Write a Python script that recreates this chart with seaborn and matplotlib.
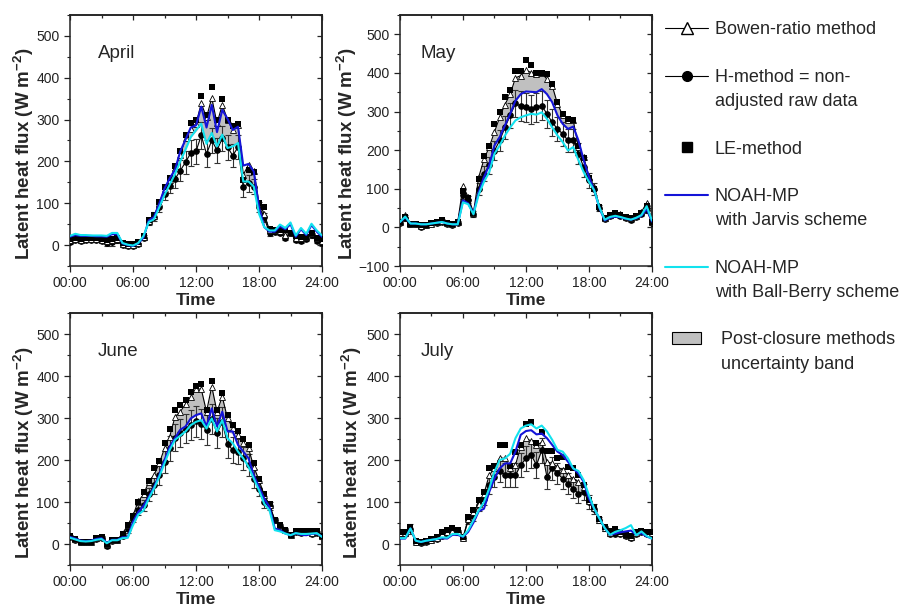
import numpy as np
import seaborn as sns
import matplotlib.pyplot as plt
from matplotlib.lines import Line2D
from matplotlib.patches import Patch
from matplotlib.ticker import MultipleLocator

# half-hourly time axis, 00:00 .. 24:00
hours = np.arange(0, 24.5, 0.5)
tick_hours = [0, 6, 12, 18, 24]
tick_labels = ["00:00", "06:00", "12:00", "18:00", "24:00"]

# ---------------- April ----------------
apr_h = [8, 11, 10, 13, 11, 11, 10, 6, 8, 11, 0, -3, -3, 2, 18, 55, 68, 92, 122, 142,
         158, 178, 198, 220, 224, 262, 218, 250, 227, 255, 234, 214, 234, 138, 148, 140, 92, 66,
         28, 32, 30, 18, 28, 12, 10, 14, 24, 10, 4]
apr_err = [5, 4, 4, 4, 4, 4, 4, 8, 10, 6, 4, 4, 4, 4, 6, 8, 10, 12, 15, 18, 22, 25, 28, 30,
           30, 32, 32, 30, 30, 30, 30, 28, 28, 22, 20, 18, 12, 10, 6, 5, 5, 5, 5, 5, 5, 5, 6, 5, 5]
apr_bowen = [12, 14, 13, 15, 14, 14, 13, 10, 12, 14, 3, 0, 0, 5, 20, 58, 70, 100, 135, 155,
             185, 215, 255, 278, 290, 339, 305, 352, 291, 335, 300, 276, 288, 168, 192, 178, 100, 75,
             35, 36, 34, 24, 30, 18, 16, 20, 28, 16, 10]
apr_le = [15, 17, 15, 17, 16, 16, 15, 12, 14, 16, 5, 2, 2, 7, 22, 60, 73, 102, 138, 160,
          190, 225, 262, 292, 298, 357, 310, 379, 298, 349, 300, 285, 290, 155, 180, 175, 100, 92,
          38, 36, 35, 36, 30, 22, 20, 20, 28, 18, 15]
apr_jarvis = [20, 24, 22, 22, 22, 21, 21, 20, 26, 26, 4, 0, -2, 4, 18, 59, 67, 99, 135, 160,
              180, 224, 252, 281, 286, 331, 281, 335, 270, 323, 302, 275, 283, 190, 194, 176, 91, 43,
              32, 32, 45, 38, 50, 20, 38, 24, 48, 32, 20]
apr_ballberry = [22, 27, 24, 24, 23, 23, 23, 22, 29, 29, 5, 1, -1, 5, 22, 55, 62, 90, 120, 145,
                 170, 200, 228, 258, 275, 290, 242, 268, 236, 264, 232, 236, 244, 152, 152, 140, 75, 43,
                 35, 35, 49, 41, 54, 23, 41, 27, 51, 35, 23]
apr_band_lo = [12, 14, 13, 15, 14, 14, 13, 10, 12, 14, 3, 0, 0, 5, 20, 56, 66, 92, 122, 145,
               175, 205, 232, 258, 272, 288, 245, 270, 238, 265, 234, 236, 244, 152, 152, 142, 82, 60,
               35, 36, 34, 24, 30, 18, 16, 20, 28, 16, 10]

# ---------------- May ----------------
may_h = [12, 24, 8, 9, 2, 5, 8, 11, 15, 10, 7, 12, 85, 72, 35, 100, 139, 161, 199, 225,
         259, 290, 321, 314, 311, 306, 311, 315, 294, 272, 255, 242, 225, 225, 191, 156, 122, 100,
         50, 22, 30, 34, 30, 24, 20, 26, 35, 45, 12]
may_err = [4, 8, 4, 4, 4, 4, 4, 4, 6, 4, 4, 4, 12, 10, 8, 15, 20, 22, 25, 28, 30, 32, 35, 38,
           38, 38, 38, 38, 36, 35, 32, 30, 30, 30, 28, 25, 20, 15, 8, 5, 5, 5, 5, 5, 5, 5, 6, 8, 5]
may_bowen = [14, 32, 10, 10, 4, 7, 10, 13, 17, 12, 9, 14, 106, 79, 38, 130, 176, 208, 247, 285,
             318, 345, 387, 393, 407, 401, 397, 399, 384, 367, 320, 290, 278, 277, 208, 182, 131, 105,
             55, 25, 33, 37, 34, 27, 24, 30, 40, 64, 15]
may_le = [14, 28, 10, 10, 5, 7, 11, 14, 18, 12, 9, 14, 95, 75, 38, 125, 186, 210, 268, 298,
          337, 355, 404, 404, 433, 421, 401, 399, 397, 370, 324, 294, 281, 278, 210, 180, 128, 100,
          52, 25, 33, 37, 33, 27, 24, 30, 38, 55, 15]
may_jarvis = [14, 26, 10, 10, 8, 8, 10, 12, 14, 10, 8, 8, 70, 62, 36, 92, 130, 161, 212, 234,
              264, 294, 328, 345, 352, 351, 350, 358, 345, 324, 290, 268, 255, 261, 225, 174, 131, 96,
              50, 18, 25, 28, 26, 22, 20, 24, 30, 48, 15]
may_ballberry = [14, 28, 10, 10, 8, 8, 10, 12, 14, 10, 8, 8, 65, 60, 34, 85, 118, 143, 191, 212,
                 238, 259, 277, 285, 290, 294, 292, 298, 281, 259, 238, 221, 199, 208, 174, 143, 118, 96,
                 52, 20, 27, 30, 27, 23, 20, 25, 32, 55, 18]
may_band_lo = [14, 32, 10, 10, 4, 7, 10, 13, 17, 12, 9, 14, 85, 70, 36, 100, 135, 165, 210, 235,
               265, 295, 325, 345, 352, 350, 350, 356, 345, 322, 290, 268, 255, 258, 208, 170, 125, 100,
               52, 25, 33, 37, 34, 27, 24, 30, 40, 64, 15]

# ---------------- June ----------------
jun_h = [17, 10, 5, 4, 5, 12, 15, -4, 8, 9, 20, 35, 62, 80, 92, 118, 140, 164, 196, 228,
         253, 264, 275, 283, 292, 285, 272, 298, 264, 290, 238, 224, 220, 204, 188, 156, 132, 100,
         90, 57, 42, 33, 21, 28, 26, 28, 25, 27, 18]
jun_err = [4, 4, 4, 4, 4, 4, 4, 5, 4, 4, 5, 8, 10, 12, 14, 16, 20, 24, 26, 30, 32, 34, 34, 36,
           36, 36, 36, 36, 36, 36, 34, 32, 30, 28, 26, 22, 18, 14, 10, 6, 5, 5, 5, 5, 5, 5, 5, 5, 5]
jun_bowen = [19, 13, 6, 5, 6, 14, 17, 0, 10, 10, 25, 45, 68, 102, 118, 148, 164, 192, 228, 256,
             303, 315, 333, 351, 369, 369, 315, 375, 315, 351, 299, 276, 260, 240, 228, 184, 152, 116,
             94, 57, 45, 33, 21, 30, 29, 30, 27, 29, 19]
jun_le = [19, 13, 6, 5, 6, 14, 17, 0, 10, 10, 25, 45, 67, 100, 124, 150, 180, 197, 240, 274,
          318, 331, 343, 363, 377, 380, 320, 389, 318, 359, 307, 283, 269, 249, 236, 192, 155, 118,
          95, 57, 45, 33, 22, 30, 32, 32, 30, 30, 20]
jun_jarvis = [17, 13, 8, 7, 8, 12, 14, 3, 10, 10, 16, 16, 53, 76, 91, 112, 136, 164, 200, 232,
              252, 272, 280, 299, 307, 311, 280, 323, 280, 315, 268, 268, 236, 220, 204, 164, 136, 108,
              88, 37, 33, 25, 21, 26, 22, 21, 24, 25, 18]
jun_ballberry = [15, 11, 7, 6, 7, 10, 12, 2, 9, 9, 14, 15, 45, 70, 80, 108, 132, 160, 192, 224,
                 248, 258, 268, 283, 291, 295, 275, 299, 268, 295, 252, 240, 220, 204, 184, 156, 128, 96,
                 80, 33, 30, 25, 21, 26, 24, 24, 25, 26, 17]
jun_band_lo = [19, 13, 6, 5, 6, 14, 17, 0, 10, 10, 25, 35, 55, 78, 91, 112, 136, 164, 198, 230,
               252, 270, 280, 299, 307, 311, 280, 320, 280, 312, 268, 262, 236, 220, 204, 164, 136, 108,
               90, 57, 45, 33, 21, 30, 29, 30, 27, 29, 19]

# ---------------- July ----------------
jul_h = [25, 25, 35, 5, 3, 6, 9, 13, 20, 24, 30, 28, 14, 57, 67, 92, 108, 140, 160, 174,
         164, 164, 164, 188, 204, 212, 188, 223, 160, 180, 168, 156, 144, 132, 120, 124, 100, 84,
         57, 38, 25, 25, 25, 19, 14, 25, 29, 25, 25]
jul_err = [5, 5, 12, 4, 4, 4, 4, 4, 5, 5, 6, 6, 5, 10, 12, 14, 16, 20, 24, 26, 28, 28, 28, 28,
           30, 30, 30, 30, 30, 28, 26, 26, 24, 22, 22, 20, 16, 12, 8, 6, 5, 5, 5, 5, 5, 5, 5, 5, 5]
jul_bowen = [27, 27, 38, 6, 4, 7, 10, 14, 25, 29, 32, 30, 15, 60, 76, 96, 120, 164, 180, 205,
             204, 180, 188, 232, 252, 245, 236, 242, 196, 192, 184, 176, 164, 156, 148, 136, 102, 86,
             58, 38, 27, 30, 27, 21, 16, 26, 30, 26, 26]
jul_le = [29, 29, 40, 7, 5, 8, 11, 16, 29, 33, 38, 33, 16, 65, 80, 104, 124, 182, 186, 236,
          236, 185, 220, 235, 285, 290, 240, 266, 221, 221, 204, 208, 184, 182, 164, 140, 104, 88,
          60, 40, 30, 35, 28, 22, 18, 28, 32, 28, 28]
jul_jarvis = [13, 13, 37, 8, 5, 8, 10, 12, 14, 13, 22, 22, 17, 29, 51, 78, 84, 124, 156, 180,
              192, 192, 220, 260, 269, 271, 261, 263, 252, 236, 220, 212, 196, 180, 168, 148, 108, 84,
              61, 38, 22, 25, 28, 30, 32, 22, 26, 18, 13]
jul_ballberry = [14, 14, 37, 8, 5, 8, 10, 12, 16, 15, 24, 24, 18, 33, 57, 80, 100, 132, 172, 200,
                 204, 215, 252, 275, 282, 285, 275, 282, 268, 248, 224, 220, 204, 180, 174, 152, 116, 84,
                 61, 38, 22, 29, 33, 38, 45, 21, 30, 19, 13]
jul_band_lo = jul_h

BLUE = "#1414d8"
CYAN = "#12e2ee"
GREY = "#c0c0c0"

sns.set_style("ticks")
plt.rcParams["font.family"] = ["Liberation Sans", "DejaVu Sans"]
plt.rcParams["mathtext.default"] = "regular"


def draw_panel(ax, name, bowen, h, err, le, jarvis, ballberry, band_lo, ymin, ylab_x):
    ax.fill_between(hours, band_lo, bowen, color=GREY, linewidth=0, zorder=1)
    ax.errorbar(hours, h, yerr=err, fmt="none", ecolor="#333333", elinewidth=0.8,
                capsize=2, capthick=0.8, zorder=2)
    sns.lineplot(x=hours, y=h, ax=ax, color="black", linewidth=0.8, marker="o",
                 markersize=4, markeredgecolor="black", markerfacecolor="black", zorder=3)
    sns.lineplot(x=hours, y=bowen, ax=ax, color="black", linewidth=0.8, marker="^",
                 markersize=4.5, markeredgecolor="black", markerfacecolor="white",
                 markeredgewidth=0.6, zorder=4)
    sns.scatterplot(x=hours, y=le, ax=ax, color="black", marker="s", s=16,
                    edgecolor="black", linewidth=0, zorder=5)
    sns.lineplot(x=hours, y=jarvis, ax=ax, color=BLUE, linewidth=1.5, zorder=6)
    sns.lineplot(x=hours, y=ballberry, ax=ax, color=CYAN, linewidth=1.5, zorder=7)

    ax.set_xlim(0, 24)
    ax.set_ylim(ymin, 550)
    ax.set_xticks(tick_hours)
    ax.set_xticklabels(tick_labels)
    ax.xaxis.set_minor_locator(MultipleLocator(3))
    ax.yaxis.set_major_locator(MultipleLocator(100))
    ax.yaxis.set_minor_locator(MultipleLocator(50))
    ax.tick_params(which="both", direction="out", labelsize=10, colors="#222222")
    ax.tick_params(which="major", length=4, width=0.9)
    ax.tick_params(which="minor", length=2.5, width=0.8)

    top = ax.secondary_xaxis("top")
    top.xaxis.set_major_locator(MultipleLocator(6))
    top.xaxis.set_minor_locator(MultipleLocator(3))
    top.tick_params(which="both", direction="in", labeltop=False, length=3.5, width=0.9)
    top.tick_params(which="minor", length=2.5)
    right = ax.secondary_yaxis("right")
    right.yaxis.set_major_locator(MultipleLocator(100))
    right.yaxis.set_minor_locator(MultipleLocator(50))
    right.tick_params(which="both", direction="in", labelright=False, length=3.5, width=0.9)
    right.tick_params(which="minor", length=2.5)

    for sp in list(ax.spines.values()) + [top.spines["top"], right.spines["right"]]:
        sp.set_linewidth(1.1)
        sp.set_color("#222222")

    ax.set_xlabel("Time", fontsize=12.5, fontweight="bold", labelpad=2)
    ax.set_ylabel("Latent heat flux (W m$^{-2}$)", fontsize=13.5, fontweight="bold")
    ax.yaxis.set_label_coords(ylab_x, 0.446)
    ax.text(0.11 if name in ("April", "June") else 0.083, 0.83, name, transform=ax.transAxes,
            fontsize=13.5, ha="left", va="baseline")


fig = plt.figure(figsize=(9.14, 6.09), dpi=100)
ax_apr = fig.add_axes([0.0766, 0.5632, 0.2757, 0.4122])
ax_may = fig.add_axes([0.4376, 0.5632, 0.2757, 0.4122])
ax_jun = fig.add_axes([0.0766, 0.0722, 0.2757, 0.4138])
ax_jul = fig.add_axes([0.4376, 0.0722, 0.2757, 0.4138])

draw_panel(ax_apr, "April", apr_bowen, apr_h, apr_err, apr_le, apr_jarvis, apr_ballberry,
           apr_band_lo, -50, -0.135)
draw_panel(ax_may, "May", may_bowen, may_h, may_err, may_le, may_jarvis, may_ballberry,
           may_band_lo, -100, -0.163)
draw_panel(ax_jun, "June", jun_bowen, jun_h, jun_err, jun_le, jun_jarvis, jun_ballberry,
           jun_band_lo, -50, -0.135)
draw_panel(ax_jul, "July", jul_bowen, jul_h, jul_err, jul_le, jul_jarvis, jul_ballberry,
           jul_band_lo, -50, -0.143)

blank = Line2D([], [], color="none")
handles = [
    Line2D([], [], color="black", lw=0.8, marker="^", ms=8, mfc="white", mec="black"), blank,
    Line2D([], [], color="black", lw=0.8, marker="o", ms=7, mfc="black", mec="black"), blank, blank,
    Line2D([], [], color="none", marker="s", ms=7, mfc="black", mec="black"), blank,
    Line2D([], [], color=BLUE, lw=1.5), blank, blank,
    Line2D([], [], color=CYAN, lw=1.5), blank,
]
labels = [
    "Bowen-ratio method", " ",
    "H-method = non-", "adjusted raw data", " ",
    "LE-method", " ",
    "NOAH-MP", "with Jarvis scheme", " ",
    "NOAH-MP", "with Ball-Berry scheme",
]
fig.legend(handles, labels, loc="upper left", bbox_to_anchor=(0.7276, 0.965),
           frameon=False, fontsize=13, handlelength=2.4, handletextpad=0.35,
           labelspacing=0.38, borderaxespad=0, borderpad=0)
fig.legend([Patch(facecolor=GREY, edgecolor="black", linewidth=0.8), blank],
           ["Post-closure methods", "uncertainty band"], loc="upper left",
           bbox_to_anchor=(0.735, 0.456), frameon=False, fontsize=13,
           handlelength=1.6, handleheight=0.7, handletextpad=1.15, labelspacing=0.4,
           borderaxespad=0, borderpad=0)

fig.savefig("out.png", dpi=100)
